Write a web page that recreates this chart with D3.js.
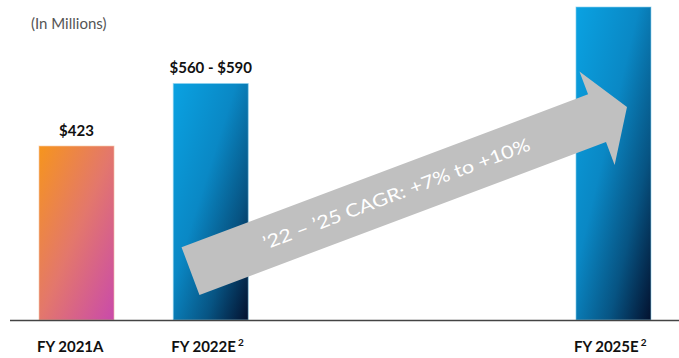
<!DOCTYPE html>
<html>
<head>
<meta charset="utf-8">
<script src="https://cdn.jsdelivr.net/npm/d3@7"></script>
<style>
  html, body { margin: 0; padding: 0; background: #fff; }
  svg { display: block; }
  text { font-family: Lato, "Open Sans", sans-serif; }
</style>
</head>
<body>
<svg id="chart" width="679" height="358"></svg>
<script>
// Revenue by fiscal year (in millions)
const years      = [2021, 2022, 2025];
const yearLabels = ["FY 2021A", "FY 2022E", "FY 2025E"];
const footnotes  = ["", "2", "2"];
const values     = [423, 575, 761];            // 2022E drawn at the midpoint of its range
const valueLabels = ["$423", "$560 - $590", ""];
const fills      = ["warm", "cool", "cool"];
const unitNote   = "(In Millions)";
const cagrText   = "\u201922 \u2013 \u201925 CAGR: +7% to +10%";

const svg = d3.select("#chart");
const W = 679, baseY = 320;

// x: one band per year so the gap 2022 -> 2025 reflects elapsed time
const x = d3.scaleBand()
  .domain(d3.range(2021, 2026))
  .range([39, 651])
  .paddingInner(0.441)
  .paddingOuter(0);

const y = d3.scaleLinear().domain([0, 778]).range([baseY, 0]);

// Gradients
const defs = svg.append("defs");
const warm = defs.append("linearGradient").attr("id", "warm")
  .attr("x1", 0).attr("y1", 0).attr("x2", 1).attr("y2", 1);
warm.append("stop").attr("offset", 0).attr("stop-color", "#f6951d");
warm.append("stop").attr("offset", 0.5).attr("stop-color", "#e3776c");
warm.append("stop").attr("offset", 1).attr("stop-color", "#c94aab");

const cool = defs.append("linearGradient").attr("id", "cool")
  .attr("x1", 0).attr("y1", 0).attr("x2", 1).attr("y2", 1);
cool.append("stop").attr("offset", 0).attr("stop-color", "#0aa2e2");
cool.append("stop").attr("offset", 0.42).attr("stop-color", "#0a88c5");
cool.append("stop").attr("offset", 0.72).attr("stop-color", "#075483");
cool.append("stop").attr("offset", 1).attr("stop-color", "#03112e");

const rows = years.map((yr, i) => ({
  yr, label: yearLabels[i], note: footnotes[i], v: values[i],
  vl: valueLabels[i], fill: fills[i]
}));

// Bars
svg.append("g").selectAll("rect").data(rows).join("rect")
  .attr("x", d => x(d.yr))
  .attr("y", d => y(d.v))
  .attr("width", x.bandwidth())
  .attr("height", d => y(0) - y(d.v))
  .attr("fill", d => `url(#${d.fill})`)
  .attr("stroke", d => d.fill === "warm" ? "#f7c9a8" : "#8fd3f0")
  .attr("stroke-opacity", 0.6)
  .attr("stroke-width", 1);

// Value labels
svg.append("g").selectAll("text").data(rows.filter(d => d.vl)).join("text")
  .attr("x", d => x(d.yr) + x.bandwidth() / 2)
  .attr("y", d => y(d.v) - 10)
  .attr("text-anchor", "middle")
  .attr("font-size", 15)
  .attr("font-weight", 700)
  .attr("fill", "#111")
  .text(d => d.vl);

// Baseline
svg.append("line")
  .attr("x1", 10).attr("x2", W)
  .attr("y1", baseY + 0.5).attr("y2", baseY + 0.5)
  .attr("stroke", "#444").attr("stroke-width", 1.5);

// Category labels
const cat = svg.append("g").selectAll("text").data(rows).join("text")
  .attr("x", d => x(d.yr) - 2)
  .attr("y", 352)
  .attr("font-size", 15)
  .attr("font-weight", 700)
  .attr("fill", "#111");
cat.append("tspan").text(d => d.label);
cat.filter(d => d.note).append("tspan")
  .attr("dx", 2).attr("dy", -6)
  .attr("font-size", 10)
  .text(d => d.note);

// Unit note
svg.append("text")
  .attr("x", 31).attr("y", 29)
  .attr("font-size", 15)
  .attr("fill", "#555")
  .text(unitNote);

// Growth arrow from FY 2022E toward FY 2025E
const S = [x(2022) + x.bandwidth() * 0.23, y(119)];
const T = [x(2025) + x.bandwidth() * 0.68, y(518)];
const dx = T[0] - S[0], dy = T[1] - S[1];
const L = Math.hypot(dx, dy);
const ang = Math.atan2(dy, dx) * 180 / Math.PI;
const shaftHalf = 25.5, headHalf = 50, headLen = 32;
const arrowPts = [
  [0, -shaftHalf], [L - headLen, -shaftHalf], [L - headLen, -headHalf],
  [L, 0], [L - headLen, headHalf], [L - headLen, shaftHalf], [0, shaftHalf]
];
const arrow = svg.append("g")
  .attr("transform", `translate(${S[0]},${S[1]}) rotate(${ang})`);
arrow.append("path")
  .attr("d", d3.line()(arrowPts) + "Z")
  .attr("fill", "#c0c0c0");
arrow.append("text")
  .attr("x", 78)
  .attr("y", 0)
  .attr("dy", "0.36em")
  .attr("font-size", 18)
  .attr("fill", "#fff")
  .attr("textLength", 284)
  .attr("lengthAdjust", "spacingAndGlyphs")
  .text(cagrText);
</script>
</body>
</html>
